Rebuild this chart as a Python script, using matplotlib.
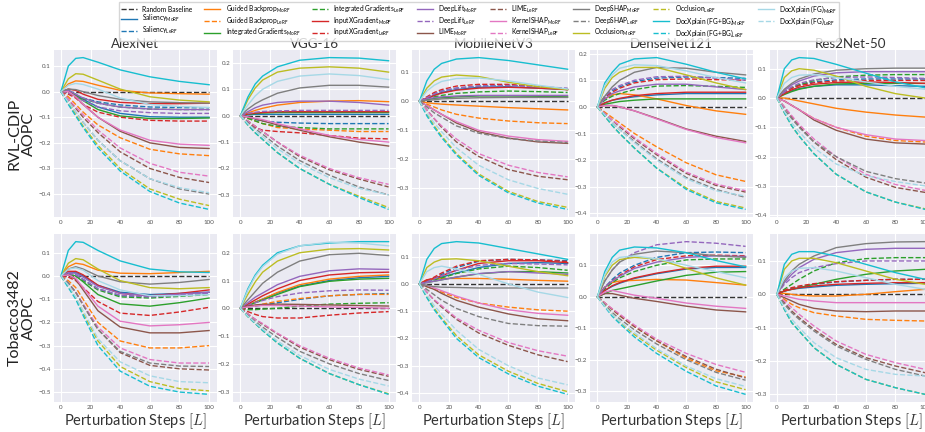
import matplotlib
matplotlib.use("Agg")
import matplotlib.pyplot as plt
from matplotlib.lines import Line2D
from matplotlib.ticker import MultipleLocator

plt.rcParams['font.family'] = ['Lato', 'DejaVu Sans']
plt.rcParams['mathtext.fontset'] = 'custom'
plt.rcParams['mathtext.rm'] = 'Lato'
plt.rcParams['mathtext.it'] = 'Lato:italic'

# ---------------- data ----------------
steps = [0, 5, 10, 15, 25, 40, 60, 80, 100]
random_baseline = [0, 0, 0, 0, 0, 0, 0, 0, 0]

methods = ["Saliency", "Guided Backprop", "Integrated Gradients", "InputXGradient",
           "DeepLift", "LIME", "KernelSHAP", "DeepSHAP", "Occlusion",
           "DocXplain (FG+BG)", "DocXplain (FG)"]
method_colors = ["#1f77b4", "#ff7f0e", "#2ca02c", "#d62728", "#9467bd", "#8c564b",
                 "#e377c2", "#7f7f7f", "#bcbd22", "#17becf", "#a6d8e6"]
variants = ["MoRF", "LeRF"]
models = ["AlexNet", "VGG-16", "MobileNetV3", "DenseNet121", "Res2Net-50"]
datasets = ["RVL-CDIP", "Tobacco3482"]
x_ticks = [0, 20, 40, 60, 80, 100]

# each row: [MoRF, LeRF] per method in the order of `methods`
rvl_alexnet = [
    [0, 0.005, -0.01, -0.03, -0.06, -0.085, -0.098, -0.1, -0.1],
    [0, -0.005, -0.015, -0.025, -0.04, -0.052, -0.06, -0.062, -0.063],
    [0, 0.03, 0.042, 0.04, 0.025, 0.005, -0.005, -0.008, -0.01],
    [0, -0.02, -0.05, -0.08, -0.13, -0.18, -0.225, -0.243, -0.25],
    [0, 0.005, -0.015, -0.035, -0.07, -0.095, -0.105, -0.105, -0.103],
    [0, -0.005, -0.015, -0.028, -0.045, -0.06, -0.068, -0.07, -0.07],
    [0, 0.01, 0.005, -0.01, -0.03, -0.042, -0.047, -0.047, -0.045],
    [0, -0.01, -0.025, -0.05, -0.08, -0.1, -0.112, -0.115, -0.115],
    [0, 0.005, -0.01, -0.025, -0.045, -0.06, -0.068, -0.07, -0.07],
    [0, -0.005, -0.02, -0.035, -0.06, -0.075, -0.082, -0.085, -0.085],
    [0, 0.0, -0.02, -0.05, -0.1, -0.155, -0.2, -0.218, -0.222],
    [0, -0.03, -0.065, -0.1, -0.16, -0.235, -0.3, -0.335, -0.355],
    [0, 0.0, -0.02, -0.05, -0.1, -0.15, -0.19, -0.205, -0.21],
    [0, -0.03, -0.06, -0.09, -0.15, -0.22, -0.28, -0.315, -0.33],
    [0, 0.01, 0.008, 0.0, -0.015, -0.03, -0.04, -0.043, -0.045],
    [0, -0.04, -0.08, -0.12, -0.19, -0.27, -0.34, -0.38, -0.4],
    [0, 0.05, 0.07, 0.068, 0.045, 0.01, -0.02, -0.033, -0.04],
    [0, -0.045, -0.09, -0.135, -0.21, -0.3, -0.38, -0.42, -0.445],
    [0, 0.1, 0.13, 0.133, 0.115, 0.085, 0.058, 0.04, 0.027],
    [0, -0.05, -0.095, -0.14, -0.22, -0.31, -0.39, -0.435, -0.46],
    [0, 0.025, 0.032, 0.028, 0.01, -0.025, -0.05, -0.058, -0.062],
    [0, -0.04, -0.08, -0.12, -0.19, -0.27, -0.34, -0.375, -0.395],
]
rvl_vgg = [
    [0, 0.003, 0.005, 0.005, 0.005, 0.005, 0.005, 0.005, 0.005],
    [0, -0.008, -0.015, -0.02, -0.025, -0.028, -0.03, -0.03, -0.03],
    [0, 0.01, 0.02, 0.028, 0.04, 0.05, 0.055, 0.057, 0.053],
    [0, -0.01, -0.02, -0.03, -0.045, -0.05, -0.055, -0.06, -0.06],
    [0, 0.005, 0.008, 0.01, 0.012, 0.012, 0.012, 0.012, 0.012],
    [0, -0.01, -0.02, -0.03, -0.04, -0.045, -0.05, -0.05, -0.05],
    [0, 0.006, 0.01, 0.012, 0.015, 0.015, 0.015, 0.015, 0.015],
    [0, -0.025, -0.045, -0.055, -0.06, -0.065, -0.075, -0.085, -0.088],
    [0, 0.015, 0.03, 0.04, 0.05, 0.055, 0.055, 0.05, 0.04],
    [0, 0.008, 0.013, 0.016, 0.018, 0.02, 0.02, 0.02, 0.02],
    [0, -0.005, -0.012, -0.02, -0.035, -0.055, -0.08, -0.1, -0.115],
    [0, -0.02, -0.04, -0.06, -0.1, -0.155, -0.205, -0.24, -0.27],
    [0, -0.005, -0.01, -0.015, -0.03, -0.05, -0.075, -0.09, -0.1],
    [0, -0.02, -0.04, -0.06, -0.1, -0.15, -0.2, -0.235, -0.26],
    [0, 0.025, 0.045, 0.06, 0.085, 0.105, 0.115, 0.115, 0.108],
    [0, -0.025, -0.05, -0.07, -0.115, -0.17, -0.225, -0.27, -0.3],
    [0, 0.06, 0.105, 0.135, 0.165, 0.18, 0.185, 0.18, 0.165],
    [0, -0.035, -0.065, -0.09, -0.14, -0.2, -0.26, -0.305, -0.348],
    [0, 0.07, 0.12, 0.15, 0.185, 0.21, 0.22, 0.218, 0.208],
    [0, -0.035, -0.065, -0.09, -0.14, -0.2, -0.26, -0.31, -0.355],
    [0, 0.04, 0.075, 0.1, 0.13, 0.15, 0.158, 0.152, 0.137],
    [0, -0.03, -0.055, -0.08, -0.125, -0.18, -0.235, -0.275, -0.3],
]
rvl_mobilenet = [
    [0, 0.01, 0.02, 0.03, 0.04, 0.048, 0.05, 0.045, 0.04],
    [0, 0.012, 0.025, 0.035, 0.045, 0.052, 0.055, 0.05, 0.042],
    [0, -0.005, -0.008, -0.01, -0.013, -0.017, -0.022, -0.026, -0.03],
    [0, -0.01, -0.02, -0.03, -0.045, -0.058, -0.068, -0.074, -0.077],
    [0, 0.005, 0.01, 0.012, 0.015, 0.018, 0.018, 0.017, 0.015],
    [0, 0.008, 0.015, 0.02, 0.027, 0.032, 0.035, 0.033, 0.03],
    [0, 0.01, 0.02, 0.028, 0.038, 0.045, 0.048, 0.045, 0.04],
    [0, 0.015, 0.03, 0.04, 0.052, 0.058, 0.058, 0.05, 0.04],
    [0, 0.008, 0.012, 0.015, 0.018, 0.02, 0.02, 0.02, 0.02],
    [0, 0.012, 0.025, 0.035, 0.045, 0.052, 0.054, 0.05, 0.045],
    [0, -0.015, -0.03, -0.045, -0.075, -0.105, -0.127, -0.14, -0.145],
    [0, -0.03, -0.06, -0.09, -0.14, -0.19, -0.235, -0.258, -0.27],
    [0, -0.015, -0.03, -0.045, -0.07, -0.1, -0.12, -0.132, -0.138],
    [0, -0.03, -0.06, -0.085, -0.13, -0.18, -0.22, -0.245, -0.26],
    [0, 0.003, 0.005, 0.008, 0.01, 0.012, 0.013, 0.013, 0.013],
    [0, -0.02, -0.04, -0.055, -0.085, -0.11, -0.128, -0.137, -0.142],
    [0, 0.045, 0.07, 0.083, 0.09, 0.085, 0.065, 0.05, 0.04],
    [0, -0.045, -0.085, -0.12, -0.18, -0.25, -0.31, -0.345, -0.365],
    [0, 0.07, 0.11, 0.13, 0.145, 0.15, 0.14, 0.125, 0.11],
    [0, -0.05, -0.09, -0.125, -0.185, -0.255, -0.315, -0.35, -0.372],
    [0, 0.035, 0.055, 0.068, 0.078, 0.08, 0.07, 0.055, 0.042],
    [0, -0.04, -0.075, -0.105, -0.16, -0.22, -0.27, -0.3, -0.32],
]
rvl_densenet = [
    [0, 0.015, 0.025, 0.03, 0.038, 0.045, 0.05, 0.05, 0.05],
    [0, 0.04, 0.06, 0.075, 0.095, 0.108, 0.112, 0.11, 0.107],
    [0, 0.03, 0.045, 0.05, 0.045, 0.03, 0.005, -0.015, -0.028],
    [0, -0.02, -0.04, -0.06, -0.1, -0.15, -0.21, -0.255, -0.28],
    [0, 0.01, 0.015, 0.02, 0.025, 0.03, 0.03, 0.03, 0.03],
    [0, 0.025, 0.04, 0.05, 0.065, 0.078, 0.08, 0.077, 0.073],
    [0, 0.015, 0.025, 0.032, 0.042, 0.05, 0.055, 0.055, 0.055],
    [0, 0.035, 0.055, 0.07, 0.09, 0.102, 0.105, 0.102, 0.1],
    [0, 0.03, 0.05, 0.06, 0.075, 0.085, 0.085, 0.075, 0.065],
    [0, 0.04, 0.065, 0.08, 0.1, 0.113, 0.115, 0.108, 0.1],
    [0, 0.005, 0.005, 0.0, -0.015, -0.043, -0.083, -0.11, -0.13],
    [0, -0.025, -0.05, -0.075, -0.12, -0.18, -0.25, -0.295, -0.32],
    [0, 0.005, 0.005, 0.0, -0.015, -0.045, -0.085, -0.115, -0.135],
    [0, -0.025, -0.05, -0.07, -0.115, -0.175, -0.245, -0.29, -0.315],
    [0, 0.04, 0.075, 0.1, 0.13, 0.148, 0.145, 0.13, 0.12],
    [0, -0.03, -0.06, -0.085, -0.13, -0.195, -0.265, -0.31, -0.34],
    [0, 0.07, 0.11, 0.13, 0.148, 0.148, 0.12, 0.09, 0.065],
    [0, -0.035, -0.07, -0.1, -0.155, -0.23, -0.305, -0.355, -0.38],
    [0, 0.09, 0.13, 0.16, 0.18, 0.185, 0.16, 0.13, 0.105],
    [0, -0.035, -0.07, -0.1, -0.155, -0.23, -0.31, -0.36, -0.385],
    [0, 0.08, 0.12, 0.145, 0.158, 0.155, 0.135, 0.11, 0.09],
    [0, -0.03, -0.06, -0.085, -0.135, -0.2, -0.27, -0.315, -0.335],
]
rvl_res2net = [
    [0, 0.015, 0.025, 0.032, 0.04, 0.045, 0.045, 0.042, 0.04],
    [0, 0.02, 0.035, 0.045, 0.055, 0.062, 0.065, 0.065, 0.065],
    [0, 0.0, -0.005, -0.01, -0.02, -0.035, -0.048, -0.058, -0.065],
    [0, -0.01, -0.025, -0.04, -0.07, -0.1, -0.13, -0.145, -0.15],
    [0, 0.012, 0.022, 0.03, 0.04, 0.048, 0.05, 0.05, 0.05],
    [0, 0.02, 0.035, 0.045, 0.06, 0.072, 0.078, 0.08, 0.08],
    [0, 0.015, 0.028, 0.037, 0.047, 0.053, 0.055, 0.053, 0.05],
    [0, 0.02, 0.033, 0.042, 0.052, 0.058, 0.06, 0.06, 0.06],
    [0, 0.025, 0.045, 0.058, 0.075, 0.086, 0.09, 0.09, 0.09],
    [0, 0.02, 0.038, 0.05, 0.062, 0.07, 0.072, 0.07, 0.067],
    [0, -0.01, -0.025, -0.04, -0.075, -0.11, -0.14, -0.153, -0.157],
    [0, -0.03, -0.065, -0.095, -0.15, -0.21, -0.27, -0.305, -0.322],
    [0, -0.01, -0.025, -0.04, -0.07, -0.1, -0.125, -0.14, -0.145],
    [0, -0.03, -0.06, -0.09, -0.14, -0.2, -0.26, -0.295, -0.315],
    [0, 0.03, 0.05, 0.065, 0.082, 0.095, 0.1, 0.102, 0.102],
    [0, -0.04, -0.07, -0.1, -0.15, -0.2, -0.25, -0.275, -0.29],
    [0, 0.07, 0.093, 0.1, 0.095, 0.075, 0.04, 0.015, 0.0],
    [0, -0.05, -0.095, -0.13, -0.19, -0.26, -0.32, -0.355, -0.378],
    [0, 0.1, 0.13, 0.138, 0.135, 0.115, 0.085, 0.055, 0.035],
    [0, -0.05, -0.095, -0.13, -0.19, -0.26, -0.32, -0.355, -0.38],
    [0, 0.05, 0.07, 0.078, 0.08, 0.07, 0.055, 0.04, 0.03],
    [0, -0.045, -0.085, -0.115, -0.17, -0.225, -0.265, -0.285, -0.3],
]
tob_alexnet = [
    [0, 0.015, 0.015, 0.0, -0.04, -0.07, -0.08, -0.075, -0.07],
    [0, 0.01, 0.005, -0.015, -0.055, -0.085, -0.09, -0.083, -0.075],
    [0, 0.04, 0.055, 0.05, 0.025, 0.012, 0.01, 0.015, 0.02],
    [0, -0.02, -0.05, -0.1, -0.2, -0.28, -0.31, -0.31, -0.3],
    [0, 0.01, 0.0, -0.025, -0.08, -0.12, -0.13, -0.115, -0.095],
    [0, 0.008, 0.0, -0.02, -0.06, -0.09, -0.095, -0.088, -0.08],
    [0, 0.02, 0.02, 0.005, -0.04, -0.075, -0.085, -0.075, -0.06],
    [0, -0.005, -0.02, -0.05, -0.11, -0.16, -0.17, -0.155, -0.135],
    [0, 0.015, 0.012, -0.005, -0.045, -0.075, -0.085, -0.078, -0.07],
    [0, 0.01, 0.005, -0.015, -0.055, -0.083, -0.09, -0.083, -0.075],
    [0, 0.005, -0.015, -0.06, -0.15, -0.22, -0.245, -0.245, -0.235],
    [0, -0.03, -0.07, -0.125, -0.23, -0.33, -0.385, -0.4, -0.405],
    [0, 0.005, -0.01, -0.05, -0.13, -0.195, -0.215, -0.21, -0.2],
    [0, -0.03, -0.07, -0.12, -0.22, -0.31, -0.36, -0.375, -0.375],
    [0, 0.03, 0.04, 0.03, 0.0, -0.025, -0.035, -0.028, -0.015],
    [0, -0.03, -0.07, -0.125, -0.23, -0.325, -0.375, -0.388, -0.39],
    [0, 0.055, 0.075, 0.07, 0.03, -0.02, -0.05, -0.055, -0.05],
    [0, -0.045, -0.095, -0.16, -0.28, -0.39, -0.455, -0.485, -0.495],
    [0, 0.11, 0.148, 0.145, 0.11, 0.065, 0.03, 0.018, 0.015],
    [0, -0.05, -0.1, -0.17, -0.3, -0.41, -0.475, -0.5, -0.51],
    [0, 0.03, 0.035, 0.025, -0.02, -0.06, -0.085, -0.085, -0.08],
    [0, -0.04, -0.09, -0.15, -0.27, -0.37, -0.43, -0.455, -0.46],
]
tob_vgg = [
    [0, 0.01, 0.022, 0.033, 0.055, 0.08, 0.1, 0.11, 0.115],
    [0, 0.005, 0.008, 0.012, 0.02, 0.032, 0.045, 0.05, 0.053],
    [0, 0.01, 0.022, 0.033, 0.057, 0.085, 0.105, 0.115, 0.12],
    [0, 0.005, 0.01, 0.015, 0.025, 0.035, 0.045, 0.05, 0.05],
    [0, 0.01, 0.02, 0.03, 0.05, 0.078, 0.097, 0.105, 0.108],
    [0, -0.005, -0.005, -0.003, 0.0, 0.008, 0.015, 0.018, 0.02],
    [0, 0.015, 0.03, 0.045, 0.07, 0.1, 0.12, 0.128, 0.13],
    [0, -0.012, -0.022, -0.03, -0.035, -0.035, -0.025, -0.017, -0.012],
    [0, 0.02, 0.04, 0.055, 0.085, 0.115, 0.135, 0.142, 0.14],
    [0, 0.01, 0.02, 0.028, 0.042, 0.055, 0.063, 0.066, 0.065],
    [0, 0.008, 0.012, 0.014, 0.015, 0.014, 0.012, 0.01, 0.008],
    [0, -0.02, -0.04, -0.058, -0.092, -0.14, -0.185, -0.22, -0.245],
    [0, 0.005, 0.008, 0.01, 0.01, 0.008, 0.005, 0.003, 0.0],
    [0, -0.02, -0.04, -0.055, -0.09, -0.135, -0.18, -0.215, -0.24],
    [0, 0.03, 0.06, 0.09, 0.13, 0.17, 0.193, 0.198, 0.19],
    [0, -0.025, -0.048, -0.068, -0.105, -0.155, -0.2, -0.235, -0.26],
    [0, 0.05, 0.095, 0.13, 0.17, 0.2, 0.213, 0.215, 0.21],
    [0, -0.03, -0.055, -0.08, -0.125, -0.18, -0.235, -0.275, -0.308],
    [0, 0.07, 0.12, 0.155, 0.2, 0.225, 0.235, 0.24, 0.24],
    [0, -0.03, -0.055, -0.08, -0.125, -0.18, -0.235, -0.275, -0.31],
    [0, 0.065, 0.115, 0.15, 0.195, 0.225, 0.238, 0.235, 0.225],
    [0, -0.028, -0.052, -0.075, -0.118, -0.17, -0.22, -0.255, -0.28],
]
tob_mobilenet = [
    [0, 0.01, 0.018, 0.025, 0.04, 0.06, 0.075, 0.078, 0.075],
    [0, 0.01, 0.02, 0.035, 0.06, 0.083, 0.09, 0.088, 0.085],
    [0, 0.015, 0.018, 0.02, 0.02, 0.02, 0.017, 0.013, 0.01],
    [0, -0.01, -0.02, -0.03, -0.05, -0.07, -0.085, -0.095, -0.1],
    [0, 0.005, 0.01, 0.015, 0.025, 0.037, 0.045, 0.045, 0.04],
    [0, 0.008, 0.015, 0.022, 0.038, 0.055, 0.065, 0.06, 0.05],
    [0, 0.015, 0.02, 0.03, 0.05, 0.075, 0.085, 0.085, 0.078],
    [0, 0.01, 0.025, 0.04, 0.065, 0.085, 0.09, 0.088, 0.082],
    [0, 0.005, 0.01, 0.015, 0.025, 0.038, 0.045, 0.04, 0.035],
    [0, 0.008, 0.018, 0.03, 0.05, 0.068, 0.075, 0.073, 0.07],
    [0, -0.01, -0.02, -0.035, -0.06, -0.085, -0.11, -0.128, -0.135],
    [0, -0.03, -0.06, -0.085, -0.13, -0.18, -0.225, -0.26, -0.285],
    [0, -0.005, -0.015, -0.025, -0.045, -0.07, -0.095, -0.108, -0.115],
    [0, -0.03, -0.058, -0.08, -0.125, -0.17, -0.215, -0.245, -0.265],
    [0, -0.005, -0.01, -0.012, -0.013, -0.015, -0.015, -0.015, -0.015],
    [0, -0.02, -0.04, -0.06, -0.09, -0.12, -0.145, -0.153, -0.155],
    [0, 0.06, 0.08, 0.09, 0.092, 0.085, 0.065, 0.045, 0.03],
    [0, -0.048, -0.09, -0.125, -0.19, -0.26, -0.32, -0.365, -0.395],
    [0, 0.09, 0.13, 0.148, 0.155, 0.15, 0.13, 0.11, 0.09],
    [0, -0.05, -0.095, -0.13, -0.2, -0.27, -0.33, -0.375, -0.405],
    [0, 0.045, 0.06, 0.065, 0.055, 0.035, 0.0, -0.03, -0.05],
    [0, -0.04, -0.08, -0.11, -0.17, -0.24, -0.3, -0.345, -0.37],
]
tob_densenet = [
    [0, 0.02, 0.033, 0.043, 0.058, 0.073, 0.088, 0.093, 0.093],
    [0, 0.03, 0.055, 0.075, 0.1, 0.125, 0.14, 0.142, 0.14],
    [0, 0.03, 0.045, 0.05, 0.052, 0.055, 0.053, 0.045, 0.037],
    [0, -0.02, -0.04, -0.06, -0.095, -0.14, -0.195, -0.235, -0.255],
    [0, 0.01, 0.02, 0.025, 0.035, 0.05, 0.068, 0.078, 0.08],
    [0, 0.025, 0.045, 0.06, 0.08, 0.1, 0.117, 0.12, 0.12],
    [0, 0.02, 0.035, 0.045, 0.06, 0.075, 0.09, 0.097, 0.097],
    [0, 0.03, 0.05, 0.068, 0.095, 0.118, 0.13, 0.132, 0.13],
    [0, 0.03, 0.05, 0.065, 0.09, 0.11, 0.125, 0.13, 0.128],
    [0, 0.05, 0.085, 0.11, 0.14, 0.165, 0.175, 0.17, 0.16],
    [0, 0.01, 0.01, 0.005, -0.005, -0.015, -0.03, -0.042, -0.048],
    [0, -0.02, -0.04, -0.06, -0.095, -0.14, -0.19, -0.23, -0.258],
    [0, 0.015, 0.02, 0.015, 0.005, -0.005, -0.02, -0.03, -0.037],
    [0, -0.02, -0.038, -0.055, -0.09, -0.135, -0.18, -0.215, -0.24],
    [0, 0.05, 0.085, 0.11, 0.135, 0.145, 0.14, 0.13, 0.125],
    [0, -0.025, -0.05, -0.07, -0.105, -0.15, -0.2, -0.24, -0.265],
    [0, 0.065, 0.1, 0.118, 0.125, 0.12, 0.09, 0.06, 0.037],
    [0, -0.03, -0.058, -0.08, -0.12, -0.17, -0.225, -0.27, -0.295],
    [0, 0.08, 0.125, 0.148, 0.158, 0.155, 0.14, 0.115, 0.095],
    [0, -0.032, -0.062, -0.085, -0.128, -0.18, -0.237, -0.283, -0.31],
    [0, 0.07, 0.11, 0.125, 0.13, 0.12, 0.1, 0.08, 0.06],
    [0, -0.03, -0.057, -0.078, -0.115, -0.165, -0.22, -0.26, -0.285],
]
tob_res2net = [
    [0, 0.01, 0.015, 0.018, 0.022, 0.027, 0.03, 0.032, 0.033],
    [0, 0.01, 0.018, 0.022, 0.03, 0.037, 0.042, 0.045, 0.045],
    [0, 0.003, 0.0, -0.003, -0.005, -0.005, 0.0, 0.008, 0.015],
    [0, -0.015, -0.03, -0.04, -0.055, -0.065, -0.075, -0.078, -0.08],
    [0, 0.01, 0.015, 0.02, 0.03, 0.045, 0.06, 0.07, 0.075],
    [0, 0.015, 0.03, 0.045, 0.07, 0.095, 0.107, 0.11, 0.11],
    [0, 0.01, 0.015, 0.02, 0.025, 0.03, 0.033, 0.035, 0.035],
    [0, 0.012, 0.02, 0.025, 0.032, 0.038, 0.042, 0.045, 0.045],
    [0, 0.035, 0.06, 0.08, 0.105, 0.125, 0.135, 0.138, 0.138],
    [0, 0.03, 0.05, 0.065, 0.08, 0.092, 0.1, 0.1, 0.1],
    [0, -0.01, -0.02, -0.03, -0.042, -0.05, -0.052, -0.05, -0.05],
    [0, -0.025, -0.05, -0.07, -0.105, -0.15, -0.19, -0.215, -0.235],
    [0, -0.005, -0.01, -0.015, -0.02, -0.025, -0.025, -0.025, -0.025],
    [0, -0.02, -0.04, -0.06, -0.095, -0.14, -0.18, -0.205, -0.225],
    [0, 0.04, 0.07, 0.09, 0.115, 0.14, 0.152, 0.157, 0.158],
    [0, -0.03, -0.055, -0.075, -0.11, -0.155, -0.195, -0.225, -0.245],
    [0, 0.075, 0.1, 0.108, 0.108, 0.095, 0.07, 0.045, 0.03],
    [0, -0.045, -0.085, -0.11, -0.16, -0.21, -0.255, -0.28, -0.3],
    [0, 0.09, 0.12, 0.128, 0.128, 0.115, 0.09, 0.065, 0.045],
    [0, -0.045, -0.085, -0.11, -0.16, -0.21, -0.255, -0.28, -0.3],
    [0, 0.05, 0.07, 0.078, 0.08, 0.07, 0.05, 0.03, 0.015],
    [0, -0.04, -0.075, -0.1, -0.145, -0.19, -0.225, -0.24, -0.245],
]

panels = [[rvl_alexnet, rvl_vgg, rvl_mobilenet, rvl_densenet, rvl_res2net],
          [tob_alexnet, tob_vgg, tob_mobilenet, tob_densenet, tob_res2net]]

# ---------------- figure ----------------
W, H = 925, 432
fig = plt.figure(figsize=(W / 100, H / 100), dpi=100)

ax_left = [53.5, 233, 412, 590, 769.5]
ax_w = 163
row_top = [50, 234]
row_h = [167, 168]

for r in range(2):
    for c in range(5):
        left = ax_left[c] / W
        bottom = 1 - (row_top[r] + row_h[r]) / H
        ax = fig.add_axes([left, bottom, ax_w / W, row_h[r] / H])
        ax.set_facecolor("#EAEAF2")
        for s in ax.spines.values():
            s.set_visible(False)
        ax.grid(True, color="white", lw=0.8)
        ax.set_axisbelow(True)
        ax.plot(steps, random_baseline, color="#333333", ls="--", lw=1.0)
        data = panels[r][c]
        for m in range(len(methods)):
            for v in range(2):
                ax.plot(steps, data[2 * m + v], color=method_colors[m],
                        ls="-" if v == 0 else "--", lw=1.0)
        ax.set_xticks(x_ticks)
        ax.yaxis.set_major_locator(MultipleLocator(0.1))
        ax.tick_params(length=0, labelsize=4.5, labelcolor="#555555", pad=2)
        if r == 0:
            ax.set_title(models[c], fontsize=9.6, pad=0.5, color="#333333")
        else:
            ax.set_xlabel(r"Perturbation Steps $[L]$", fontsize=10.5,
                          labelpad=1, color="#333333", math_fontfamily="cm")

for r in range(2):
    yc = 1 - (row_top[r] + row_h[r] / 2) / H
    fig.text(22 / W, yc, datasets[r] + "\nAOPC", rotation=90, ha="center",
             va="center", fontsize=11.5, linespacing=1.0, color="#222222")

handles = [Line2D([], [], color="#333333", ls="--", lw=1.0)]
labels = ["Random Baseline"]
for m in range(len(methods)):
    for v in range(2):
        handles.append(Line2D([], [], color=method_colors[m],
                              ls="-" if v == 0 else "--", lw=1.0))
        labels.append(methods[m] + r"$_{\mathrm{" + variants[v] + "}}$")

fig.legend(handles, labels, loc="upper center", bbox_to_anchor=(479 / W, 1 - 1.5 / H),
           ncol=8, fontsize=4.8, frameon=True, edgecolor="#cccccc",
           facecolor="white", fancybox=False, handlelength=2.4,
           columnspacing=1.75, borderpad=0.3, labelspacing=0.08,
           handletextpad=0.8, borderaxespad=0)

fig.savefig("out.png", dpi=100)
